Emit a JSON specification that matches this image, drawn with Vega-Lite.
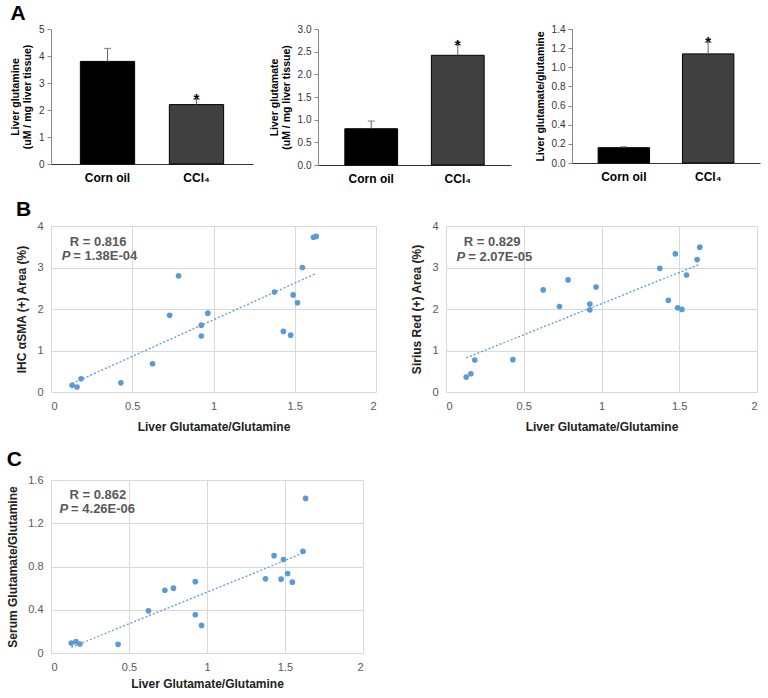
{
  "$schema": "https://vega.github.io/schema/vega-lite/v6.json",
  "background": "white",
  "padding": {"left": 6, "top": 3, "right": 2, "bottom": 2},
  "config": {"view": {"stroke": null}, "font": "Liberation Sans", "axis": {"labelOverlap": false}},
  "datasets": {
    "glutamine": [
      {"group": "Corn oil", "value": 3.8, "err": 4.28, "sig": ""},
      {"group": "CCl₄", "value": 2.2, "err": 2.4, "sig": "*"}
    ],
    "glutamate": [
      {"group": "Corn oil", "value": 0.8, "err": 0.97, "sig": ""},
      {"group": "CCl₄", "value": 2.42, "err": 2.65, "sig": "*"}
    ],
    "ratio": [
      {"group": "Corn oil", "value": 0.16, "err": 0.17, "sig": ""},
      {"group": "CCl₄", "value": 1.14, "err": 1.26, "sig": "*"}
    ],
    "scatter": [
      {"x": 0.13, "asma": 0.16, "sirius": 0.36, "serum": 0.092},
      {"x": 0.16, "asma": 0.12, "sirius": 0.44, "serum": 0.105},
      {"x": 0.185, "asma": 0.32, "sirius": 0.77, "serum": 0.083},
      {"x": 0.43, "asma": 0.22, "sirius": 0.78, "serum": 0.08},
      {"x": 0.625, "asma": 0.68, "sirius": 2.46, "serum": 0.39},
      {"x": 0.73, "asma": 1.85, "sirius": 2.06, "serum": 0.58},
      {"x": 0.785, "asma": 2.8, "sirius": 2.7, "serum": 0.6},
      {"x": 0.925, "asma": 1.61, "sirius": 2.12, "serum": 0.66},
      {"x": 0.925, "asma": 1.35, "sirius": 1.98, "serum": 0.354},
      {"x": 0.965, "asma": 1.9, "sirius": 2.53, "serum": 0.255},
      {"x": 1.375, "asma": 2.41, "sirius": 2.98, "serum": 0.686},
      {"x": 1.43, "asma": 1.46, "sirius": 2.21, "serum": 0.9},
      {"x": 1.475, "asma": 1.37, "sirius": 3.33, "serum": 0.683},
      {"x": 1.49, "asma": 2.34, "sirius": 2.03, "serum": 0.865},
      {"x": 1.517, "asma": 2.15, "sirius": 1.99, "serum": 0.735},
      {"x": 1.547, "asma": 3.0, "sirius": 2.82, "serum": 0.655},
      {"x": 1.615, "asma": 3.73, "sirius": 3.19, "serum": 0.94},
      {"x": 1.632, "asma": 3.75, "sirius": 3.49, "serum": 1.43}
    ]
  },
  "spacing": 15,
  "vconcat": [
    {
      "title": {"text": "A", "anchor": "start", "fontSize": 21, "fontWeight": "bold", "color": "black", "offset": 0},
      "spacing": 16,
      "hconcat": [
        {
          "width": 202, "height": 135,
          "data": {"name": "glutamine"},
          "encoding": {
            "x": {"field": "group", "type": "nominal", "sort": null,
              "scale": {"paddingInner": 0.39, "paddingOuter": 0.33},
              "axis": {"title": null, "labelFontSize": 12, "labelFontWeight": "bold", "labelColor": "black", "labelAngle": 0, "ticks": false, "domainColor": "#333", "labelPadding": 8}}
          },
          "layer": [
            {"mark": {"type": "bar", "stroke": "black", "strokeWidth": 1},
             "encoding": {
               "y": {"field": "value", "type": "quantitative", "scale": {"domain": [0, 5]},
                 "axis": {"title": ["Liver glutamine", "(uM / mg liver tissue)"], "titleFontSize": 10.5, "titleFontWeight": "bold", "titleColor": "black", "titleLineHeight": 12, "labelFontSize": 10, "labelColor": "#333", "values": [0, 1, 2, 3, 4, 5], "labelOverlap": false, "grid": false, "domainColor": "#888", "tickColor": "#888", "tickSize": 4, "titlePadding": 6, "labelPadding": 3}},
               "color": {"field": "group", "type": "nominal", "scale": {"domain": ["Corn oil", "CCl₄"], "range": ["#000000", "#404040"]}, "legend": null}}},
            {"mark": {"type": "rule", "color": "#666"}, "encoding": {"y": {"field": "value", "type": "quantitative", "axis": {"values": [0, 1, 2, 3, 4, 5], "labelOverlap": false}}, "y2": {"field": "err"}}},
            {"mark": {"type": "tick", "orient": "horizontal", "size": 7, "thickness": 1.2, "color": "#666"}, "encoding": {"y": {"field": "err", "type": "quantitative", "axis": {"values": [0, 1, 2, 3, 4, 5], "labelOverlap": false}}}},
            {"mark": {"type": "text", "fontSize": 15, "fontWeight": "bold", "baseline": "alphabetic", "dy": 5, "color": "black"}, "encoding": {"y": {"field": "err", "type": "quantitative", "axis": {"values": [0, 1, 2, 3, 4, 5], "labelOverlap": false}}, "text": {"field": "sig"}}}
          ]
        },
        {
          "spacing": 24,
          "hconcat": [
            {
              "width": 193, "height": 136,
              "data": {"name": "glutamate"},
              "encoding": {
                "x": {"field": "group", "type": "nominal", "sort": null,
                  "scale": {"paddingInner": 0.39, "paddingOuter": 0.31},
                  "axis": {"title": null, "labelFontSize": 12, "labelFontWeight": "bold", "labelColor": "black", "labelAngle": 0, "ticks": false, "domainColor": "#333", "labelPadding": 8}}
              },
              "layer": [
                {"mark": {"type": "bar", "stroke": "black", "strokeWidth": 1},
                 "encoding": {
                   "y": {"field": "value", "type": "quantitative", "scale": {"domain": [0, 3]},
                     "axis": {"title": ["Liver glutamate", "(uM / mg liver tissue)"], "titleFontSize": 10.5, "titleFontWeight": "bold", "titleColor": "black", "titleLineHeight": 12, "labelFontSize": 10, "labelColor": "#333", "values": [0, 0.5, 1, 1.5, 2, 2.5, 3], "labelOverlap": false, "format": ".1f", "grid": false, "domainColor": "#888", "tickColor": "#888", "tickSize": 4, "titlePadding": 6, "labelPadding": 3}},
                   "color": {"field": "group", "type": "nominal", "scale": {"domain": ["Corn oil", "CCl₄"], "range": ["#000000", "#404040"]}, "legend": null}}},
                {"mark": {"type": "rule", "color": "#666"}, "encoding": {"y": {"field": "value", "type": "quantitative", "axis": {"values": [0, 0.5, 1, 1.5, 2, 2.5, 3], "labelOverlap": false, "format": ".1f"}}, "y2": {"field": "err"}}},
                {"mark": {"type": "tick", "orient": "horizontal", "size": 7, "thickness": 1.2, "color": "#666"}, "encoding": {"y": {"field": "err", "type": "quantitative", "axis": {"values": [0, 0.5, 1, 1.5, 2, 2.5, 3], "labelOverlap": false, "format": ".1f"}}}},
                {"mark": {"type": "text", "fontSize": 15, "fontWeight": "bold", "baseline": "alphabetic", "dy": 5, "color": "black"}, "encoding": {"y": {"field": "err", "type": "quantitative", "axis": {"values": [0, 0.5, 1, 1.5, 2, 2.5, 3], "labelOverlap": false, "format": ".1f"}}, "text": {"field": "sig"}}}
              ]
            },
            {
              "width": 188, "height": 134,
              "data": {"name": "ratio"},
              "encoding": {
                "x": {"field": "group", "type": "nominal", "sort": null,
                  "scale": {"paddingInner": 0.39, "paddingOuter": 0.31},
                  "axis": {"title": null, "labelFontSize": 12, "labelFontWeight": "bold", "labelColor": "black", "labelAngle": 0, "ticks": false, "domainColor": "#333", "labelPadding": 8}}
              },
              "layer": [
                {"mark": {"type": "bar", "stroke": "black", "strokeWidth": 1},
                 "encoding": {
                   "y": {"field": "value", "type": "quantitative", "scale": {"domain": [0, 1.4]},
                     "axis": {"title": "Liver glutamate/glutamine", "titleFontSize": 10.5, "titleFontWeight": "bold", "titleColor": "black", "labelFontSize": 10, "labelColor": "#333", "values": [0, 0.2, 0.4, 0.6, 0.8, 1, 1.2, 1.4], "labelOverlap": false, "format": ".1f", "grid": false, "domainColor": "#888", "tickColor": "#888", "tickSize": 4, "titlePadding": 6, "labelPadding": 3}},
                   "color": {"field": "group", "type": "nominal", "scale": {"domain": ["Corn oil", "CCl₄"], "range": ["#000000", "#404040"]}, "legend": null}}},
                {"mark": {"type": "rule", "color": "#666"}, "encoding": {"y": {"field": "value", "type": "quantitative", "axis": {"values": [0, 0.2, 0.4, 0.6, 0.8, 1, 1.2, 1.4], "labelOverlap": false, "format": ".1f"}}, "y2": {"field": "err"}}},
                {"mark": {"type": "tick", "orient": "horizontal", "size": 7, "thickness": 1.2, "color": "#666"}, "encoding": {"y": {"field": "err", "type": "quantitative", "axis": {"values": [0, 0.2, 0.4, 0.6, 0.8, 1, 1.2, 1.4], "labelOverlap": false, "format": ".1f"}}}},
                {"mark": {"type": "text", "fontSize": 15, "fontWeight": "bold", "baseline": "alphabetic", "dy": 5, "color": "black"}, "encoding": {"y": {"field": "err", "type": "quantitative", "axis": {"values": [0, 0.2, 0.4, 0.6, 0.8, 1, 1.2, 1.4], "labelOverlap": false, "format": ".1f"}}, "text": {"field": "sig"}}}
              ]
            }
          ]
        }
      ]
    },
    {
      "spacing": 17,
      "vconcat": [
        {
          "title": {"text": "B", "anchor": "start", "fontSize": 21, "fontWeight": "bold", "color": "black", "offset": 0},
          "spacing": 34,
          "hconcat": [
            {
              "width": 325, "height": 166,
              "layer": [
                {"data": {"name": "scatter"},
                 "mark": {"type": "point", "filled": true, "size": 32, "color": "#5B9BD5", "opacity": 1},
                 "encoding": {
                   "x": {"field": "x", "type": "quantitative", "scale": {"domain": [0, 2]},
                     "axis": {"title": "Liver Glutamate/Glutamine", "titleFontSize": 12, "titleFontWeight": "bold", "titleColor": "#222", "values": [0, 0.5, 1, 1.5, 2], "format": "~g", "labelFontSize": 11, "labelColor": "#595959", "grid": true, "gridColor": "#d9d9d9", "domain": false, "ticks": false, "labelPadding": 8, "titlePadding": 10}},
                   "y": {"field": "asma", "type": "quantitative", "scale": {"domain": [0, 4]},
                     "axis": {"title": "IHC αSMA (+) Area (%)", "titleFontSize": 12, "titleFontWeight": "bold", "titleColor": "#222", "values": [0, 1, 2, 3, 4], "format": "~g", "labelFontSize": 11, "labelColor": "#595959", "grid": true, "gridColor": "#d9d9d9", "domain": false, "ticks": false, "labelPadding": 8, "titlePadding": 8}}}},
                {"data": {"name": "scatter"},
                 "transform": [{"regression": "asma", "on": "x"}],
                 "mark": {"type": "line", "color": "#5B9BD5", "strokeDash": [2, 2], "strokeWidth": 1.3},
                 "encoding": {"x": {"field": "x", "type": "quantitative"}, "y": {"field": "asma", "type": "quantitative"}}},
                {"data": {"values": [{"t": "R = 0.816"}]},
                 "mark": {"type": "text", "fontSize": 13, "fontWeight": "bold", "color": "#595959", "align": "center", "baseline": "middle"},
                 "encoding": {"x": {"datum": 0.29}, "y": {"datum": 3.61}, "text": {"field": "t"}}},
                {"data": {"values": [{"t": "P"}]},
                 "mark": {"type": "text", "fontSize": 13, "fontWeight": "bold", "fontStyle": "italic", "color": "#595959", "align": "right", "baseline": "middle", "dx": -1},
                 "encoding": {"x": {"datum": 0.125}, "y": {"datum": 3.28}, "text": {"field": "t"}}},
                {"data": {"values": [{"t": "= 1.38E-04"}]},
                 "mark": {"type": "text", "fontSize": 13, "fontWeight": "bold", "color": "#595959", "align": "left", "baseline": "middle", "dx": 2},
                 "encoding": {"x": {"datum": 0.125}, "y": {"datum": 3.28}, "text": {"field": "t"}}}
              ]
            },
            {
              "width": 311, "height": 166,
              "layer": [
                {"data": {"name": "scatter"},
                 "mark": {"type": "point", "filled": true, "size": 32, "color": "#5B9BD5", "opacity": 1},
                 "encoding": {
                   "x": {"field": "x", "type": "quantitative", "scale": {"domain": [0, 2]},
                     "axis": {"title": "Liver Glutamate/Glutamine", "titleFontSize": 12, "titleFontWeight": "bold", "titleColor": "#222", "values": [0, 0.5, 1, 1.5, 2], "format": "~g", "labelFontSize": 11, "labelColor": "#595959", "grid": true, "gridColor": "#d9d9d9", "domain": false, "ticks": false, "labelPadding": 8, "titlePadding": 10}},
                   "y": {"field": "sirius", "type": "quantitative", "scale": {"domain": [0, 4]},
                     "axis": {"title": "Sirius Red (+) Area (%)", "titleFontSize": 12, "titleFontWeight": "bold", "titleColor": "#222", "values": [0, 1, 2, 3, 4], "format": "~g", "labelFontSize": 11, "labelColor": "#595959", "grid": true, "gridColor": "#d9d9d9", "domain": false, "ticks": false, "labelPadding": 8, "titlePadding": 8}}}},
                {"data": {"name": "scatter"},
                 "transform": [{"regression": "sirius", "on": "x"}],
                 "mark": {"type": "line", "color": "#5B9BD5", "strokeDash": [2, 2], "strokeWidth": 1.3},
                 "encoding": {"x": {"field": "x", "type": "quantitative"}, "y": {"field": "sirius", "type": "quantitative"}}},
                {"data": {"values": [{"t": "R = 0.829"}]},
                 "mark": {"type": "text", "fontSize": 13, "fontWeight": "bold", "color": "#595959", "align": "center", "baseline": "middle"},
                 "encoding": {"x": {"datum": 0.297}, "y": {"datum": 3.61}, "text": {"field": "t"}}},
                {"data": {"values": [{"t": "P"}]},
                 "mark": {"type": "text", "fontSize": 13, "fontWeight": "bold", "fontStyle": "italic", "color": "#595959", "align": "right", "baseline": "middle", "dx": -1},
                 "encoding": {"x": {"datum": 0.13}, "y": {"datum": 3.25}, "text": {"field": "t"}}},
                {"data": {"values": [{"t": "= 2.07E-05"}]},
                 "mark": {"type": "text", "fontSize": 13, "fontWeight": "bold", "color": "#595959", "align": "left", "baseline": "middle", "dx": 2},
                 "encoding": {"x": {"datum": 0.13}, "y": {"datum": 3.25}, "text": {"field": "t"}}}
              ]
            }
          ]
        },
        {
          "title": {"text": "C", "anchor": "start", "fontSize": 21, "fontWeight": "bold", "color": "black", "offset": 4},
          "hconcat": [
            {
              "width": 312, "height": 173,
              "layer": [
                {"data": {"name": "scatter"},
                 "mark": {"type": "point", "filled": true, "size": 32, "color": "#5B9BD5", "opacity": 1},
                 "encoding": {
                   "x": {"field": "x", "type": "quantitative", "scale": {"domain": [0, 2]},
                     "axis": {"title": "Liver Glutamate/Glutamine", "titleFontSize": 12, "titleFontWeight": "bold", "titleColor": "#222", "values": [0, 0.5, 1, 1.5, 2], "format": "~g", "labelFontSize": 11, "labelColor": "#595959", "grid": true, "gridColor": "#d9d9d9", "domain": false, "ticks": false, "labelPadding": 8, "titlePadding": 6}},
                   "y": {"field": "serum", "type": "quantitative", "scale": {"domain": [0, 1.6]},
                     "axis": {"title": "Serum Glutamate/Glutamine", "titleFontSize": 12, "titleFontWeight": "bold", "titleColor": "#222", "values": [0, 0.4, 0.8, 1.2, 1.6], "format": "~g", "labelFontSize": 11, "labelColor": "#595959", "grid": true, "gridColor": "#d9d9d9", "domain": false, "ticks": false, "labelPadding": 8, "titlePadding": 8}}}},
                {"data": {"name": "scatter"},
                 "transform": [{"regression": "serum", "on": "x"}],
                 "mark": {"type": "line", "color": "#5B9BD5", "strokeDash": [2, 2], "strokeWidth": 1.3},
                 "encoding": {"x": {"field": "x", "type": "quantitative"}, "y": {"field": "serum", "type": "quantitative"}}},
                {"data": {"values": [{"t": "R = 0.862"}]},
                 "mark": {"type": "text", "fontSize": 13, "fontWeight": "bold", "color": "#595959", "align": "center", "baseline": "middle"},
                 "encoding": {"x": {"datum": 0.3}, "y": {"datum": 1.46}, "text": {"field": "t"}}},
                {"data": {"values": [{"t": "P"}]},
                 "mark": {"type": "text", "fontSize": 13, "fontWeight": "bold", "fontStyle": "italic", "color": "#595959", "align": "right", "baseline": "middle", "dx": -1},
                 "encoding": {"x": {"datum": 0.116}, "y": {"datum": 1.33}, "text": {"field": "t"}}},
                {"data": {"values": [{"t": "= 4.26E-06"}]},
                 "mark": {"type": "text", "fontSize": 13, "fontWeight": "bold", "color": "#595959", "align": "left", "baseline": "middle", "dx": 2},
                 "encoding": {"x": {"datum": 0.116}, "y": {"datum": 1.33}, "text": {"field": "t"}}}
              ]
            }
          ]
        }
      ]
    }
  ]
}
